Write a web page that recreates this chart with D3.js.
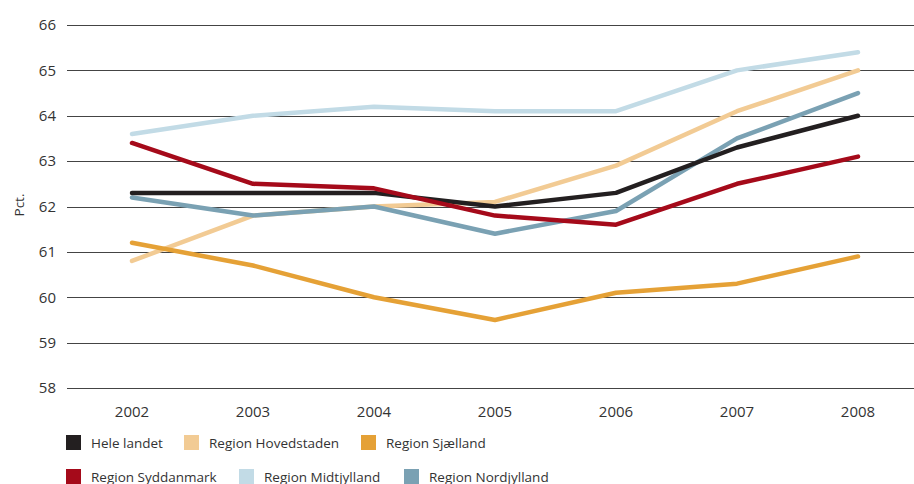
<!DOCTYPE html>
<html>
<head>
<meta charset="utf-8">
<script src="https://cdn.jsdelivr.net/npm/d3@7"></script>
<style>
  body { margin: 0; background: #fff; }
  svg text { font-family: "Open Sans", sans-serif; fill: #333; }
</style>
</head>
<body>
<div id="chart"></div>
<script>
// years on the x axis
const years = ["2002", "2003", "2004", "2005", "2006", "2007", "2008"];
const yTicks = [58, 59, 60, 61, 62, 63, 64, 65, 66];

// values (pct.)
const heleLandet   = [62.3, 62.3, 62.3, 62.0, 62.3, 63.3, 64.0];
const hovedstaden  = [60.8, 61.8, 62.0, 62.1, 62.9, 64.1, 65.0];
const sjaelland    = [61.2, 60.7, 60.0, 59.5, 60.1, 60.3, 60.9];
const syddanmark   = [63.4, 62.5, 62.4, 61.8, 61.6, 62.5, 63.1];
const midtjylland  = [63.6, 64.0, 64.2, 64.1, 64.1, 65.0, 65.4];
const nordjylland  = [62.2, 61.8, 62.0, 61.4, 61.9, 63.5, 64.5];

const seriesNames = ["Hele landet", "Region Hovedstaden", "Region Sjælland",
                     "Region Syddanmark", "Region Midtjylland", "Region Nordjylland"];
const seriesValues = [heleLandet, hovedstaden, sjaelland, syddanmark, midtjylland, nordjylland];
const seriesColors = ["#231f20", "#f2cb94", "#e5a136", "#a50a1a", "#c2dbe6", "#7aa1b3"];

// drawing order (back to front)
const drawOrder = [1, 2, 4, 5, 0, 3];

const width = 914, height = 484;
const svg = d3.select("#chart").append("svg")
    .attr("width", width)
    .attr("height", height);

const x = d3.scalePoint().domain(years).range([132, 858]);
const y = d3.scaleLinear().domain([58, 66]).range([388, 25]);

// horizontal grid lines
svg.append("g")
    .selectAll("line")
    .data(yTicks)
    .enter()
    .append("line")
    .attr("x1", 67)
    .attr("x2", 914)
    .attr("y1", d => Math.round(y(d)) + 0.5)
    .attr("y2", d => Math.round(y(d)) + 0.5)
    .attr("stroke", "#444")
    .attr("stroke-width", 1);

// y tick labels
svg.append("g")
    .selectAll("text")
    .data(yTicks)
    .enter()
    .append("text")
    .attr("x", 56)
    .attr("y", d => y(d))
    .attr("dy", "0.35em")
    .attr("text-anchor", "end")
    .style("font-size", "15px")
    .text(d => d);

// x tick labels
svg.append("g")
    .selectAll("text")
    .data(years)
    .enter()
    .append("text")
    .attr("x", d => x(d))
    .attr("y", 411.5)
    .attr("dy", "0.35em")
    .attr("text-anchor", "middle")
    .style("font-size", "15px")
    .text(d => d);

// y axis title
svg.append("text")
    .attr("transform", "translate(19,205) rotate(-90)")
    .attr("text-anchor", "middle")
    .attr("dy", "0.35em")
    .style("font-size", "13.5px")
    .text("Pct.");

const line = d3.line()
    .x((d, i) => x(years[i]))
    .y(d => y(d));

svg.append("g")
    .selectAll("path")
    .data(drawOrder)
    .enter()
    .append("path")
    .attr("d", i => line(seriesValues[i]))
    .attr("fill", "none")
    .attr("stroke", i => seriesColors[i])
    .attr("stroke-width", 4.5)
    .attr("stroke-linejoin", "round")
    .attr("stroke-linecap", "round");

// legend
const legendPos = [
    [66, 443], [184, 443], [361, 443],
    [66, 477], [239, 477], [404, 477]
];
const legend = svg.append("g")
    .selectAll("g")
    .data(seriesNames)
    .enter()
    .append("g")
    .attr("transform", (d, i) => "translate(" + legendPos[i][0] + "," + legendPos[i][1] + ")");

legend.append("rect")
    .attr("x", 0)
    .attr("y", -8)
    .attr("width", 15)
    .attr("height", 15)
    .attr("fill", (d, i) => seriesColors[i]);

legend.append("text")
    .attr("x", 25)
    .attr("y", 0)
    .attr("dy", "0.35em")
    .style("font-size", "13.5px")
    .text(d => d);
</script>
</body>
</html>
